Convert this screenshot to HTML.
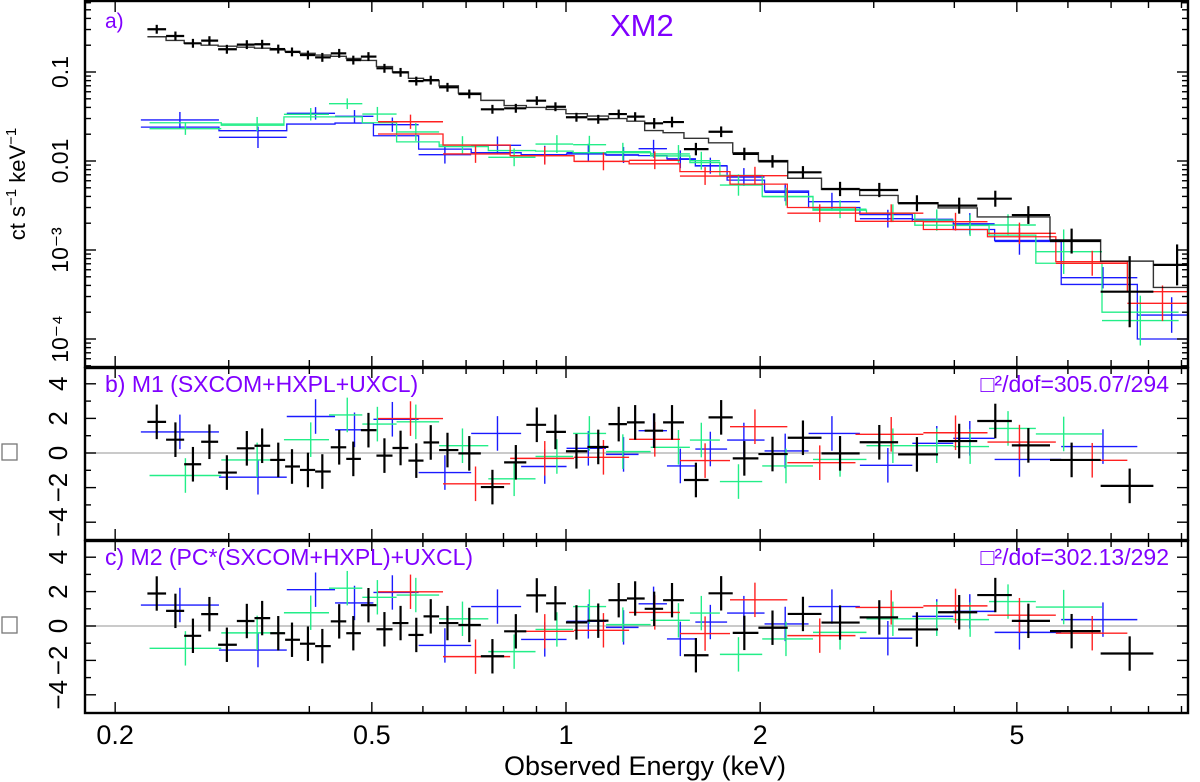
<!DOCTYPE html>
<html><head><meta charset="utf-8"><style>
html,body{margin:0;padding:0;background:#fff;}
svg{display:block;font-family:"Liberation Sans",sans-serif;}
</style></head><body>
<svg id="chart" width="1200" height="782" viewBox="0 0 1200 782" xmlns="http://www.w3.org/2000/svg">
<defs>
<clipPath id="clipTop"><rect x="85" y="0" width="1103" height="367"/></clipPath>
<clipPath id="clipMid"><rect x="85" y="367" width="1103" height="173"/></clipPath>
<clipPath id="clipBot"><rect x="85" y="540" width="1103" height="173"/></clipPath>
</defs>
<g id="gTop" clip-path="url(#clipTop)"></g>
<g id="gMid" clip-path="url(#clipMid)"></g>
<g id="gBot" clip-path="url(#clipBot)"></g>
<g id="gAxes"></g>
<text x="105" y="28" font-size="21" fill="#8000ff">a)</text>
<text x="610" y="36" font-size="31" fill="#8000ff">XM2</text>
<text x="105" y="392" font-size="23" fill="#8000ff">b) M1 (SXCOM+HXPL+UXCL)</text>
<text x="1169" y="392" font-size="23" fill="#8000ff" text-anchor="end">□²/dof=305.07/294</text>
<text x="105" y="565" font-size="23" fill="#8000ff">c) M2 (PC*(SXCOM+HXPL)+UXCL)</text>
<text x="1169" y="565" font-size="23" fill="#8000ff" text-anchor="end">□²/dof=302.13/292</text>
<text x="645" y="775" font-size="27" text-anchor="middle">Observed Energy (keV)</text>
<text transform="translate(25,184) rotate(-90)" font-size="22" text-anchor="middle">ct s<tspan dy="-9" font-size="15">−1</tspan><tspan dy="9"> keV</tspan><tspan dy="-9" font-size="15">−1</tspan></text>
<rect x="2" y="444" width="15" height="16" fill="none" stroke="#777" stroke-width="1.3"/>
<rect x="2" y="617" width="15" height="16" fill="none" stroke="#777" stroke-width="1.3"/>
</svg>
<script>
// ---- data ----
const blackE = [0.232,0.248,0.264,0.280,0.298,0.320,0.338,0.358,0.376,0.398,0.419,0.445,0.468,0.494,0.523,0.554,0.586,0.617,0.655,0.708,0.769,0.836,0.901,0.963,1.038,1.122,1.207,1.28,1.37,1.46,1.59,1.74,1.89,2.09,2.33,2.66,3.06,3.50,4.07,4.63,5.21,6.08,7.48,8.86];
const blackV = [0.302,0.254,0.210,0.225,0.180,0.203,0.205,0.181,0.168,0.155,0.146,0.162,0.136,0.149,0.110,0.099,0.079,0.081,0.0673,0.0566,0.0381,0.0391,0.0476,0.0407,0.031,0.0294,0.0337,0.0315,0.0265,0.0274,0.0136,0.0213,0.0120,0.0099,0.00746,0.00485,0.00472,0.00335,0.00315,0.00377,0.00247,0.00126,0.00034,0.00068];
const blackErr = [0.05,0.05,0.05,0.05,0.05,0.05,0.05,0.05,0.05,0.05,0.05,0.05,0.05,0.05,0.05,0.05,0.05,0.05,0.05,0.05,0.05,0.05,0.05,0.05,0.05,0.05,0.05,0.05,0.06,0.06,0.07,0.06,0.07,0.07,0.07,0.08,0.08,0.09,0.09,0.09,0.1,0.14,0.4,0.23];
const blackModel = [0.249,0.226,0.21,0.2,0.195,0.19,0.185,0.177,0.17,0.162,0.155,0.15,0.142,0.135,0.115,0.1,0.085,0.08,0.07,0.058,0.048,0.042,0.04,0.038,0.034,0.032,0.030,0.028,0.022,0.0208,0.018,0.016,0.0124,0.0101,0.0064,0.0048,0.0041,0.0034,0.00297,0.00235,0.00235,0.0013,0.00075,0.00038];
const blueE = [0.252,0.333,0.409,0.470,0.538,0.649,0.783,0.927,1.083,1.228,1.367,1.504,1.674,1.887,2.187,2.584,3.155,3.757,4.227,5.047,6.80,8.69];
const blueV = [0.0289,0.01846,0.0343,0.0318,0.0256,0.01178,0.0150,0.01178,0.0124,0.01168,0.01374,0.01045,0.00886,0.00661,0.00445,0.00349,0.00225,0.00221,0.00197,0.00125,0.000488,0.000186];
const blueErr = [0.09,0.12,0.07,0.07,0.08,0.1,0.1,0.1,0.1,0.09,0.1,0.1,0.09,0.1,0.1,0.1,0.1,0.1,0.12,0.15,0.12,0.2];
const blueModel = [0.024,0.0219,0.026,0.0267,0.0192,0.0136,0.0124,0.0118,0.012,0.0117,0.0115,0.0106,0.0088,0.0061,0.0046,0.003,0.0025,0.0021,0.0017,0.00128,0.00041,0.0001];
const greenE = [0.257,0.332,0.402,0.458,0.510,0.585,0.691,0.831,0.968,1.087,1.225,1.494,1.621,1.851,2.193,2.66,3.212,3.757,4.232,4.845,5.91,7.77];
const greenV = [0.0231,0.0260,0.0335,0.0440,0.0337,0.0212,0.0151,0.0110,0.0155,0.01524,0.01272,0.0120,0.01008,0.00537,0.00397,0.00287,0.00259,0.00217,0.00189,0.00191,0.000957,0.000161];
const greenErr = [0.07,0.08,0.07,0.06,0.08,0.1,0.1,0.1,0.1,0.1,0.1,0.1,0.1,0.12,0.1,0.1,0.1,0.12,0.12,0.12,0.25,0.28];
const greenModel = [0.0269,0.0252,0.0313,0.0313,0.0269,0.0164,0.0145,0.0131,0.0129,0.0124,0.0124,0.0114,0.0096,0.0069,0.0040,0.0028,0.0026,0.0019,0.0019,0.00147,0.00071,0.0002];
const redE = [0.574,0.724,0.927,1.143,1.373,1.643,1.963,2.474,3.193,4.017,5.047,6.544,8.41];
const redV = [0.0276,0.0120,0.01147,0.0099,0.01019,0.00678,0.00684,0.00259,0.00259,0.00208,0.00154,0.000709,0.000252];
const redErr = [0.08,0.1,0.1,0.1,0.1,0.1,0.1,0.1,0.1,0.1,0.12,0.14,0.2];
const redModel = [0.0201,0.0151,0.0115,0.0099,0.0093,0.0076,0.0055,0.0030,0.0021,0.0017,0.00141,0.00074,0.00034];
// residuals (sigma)
const blackResM1 = [1.80,0.77,-0.65,0.65,-1.13,0.27,0.42,-0.40,-0.78,-0.98,-1.07,0.33,-0.34,1.32,-0.15,0.29,-0.44,0.61,0.17,-0.02,-1.97,-0.54,1.63,1.22,0.10,0.35,1.67,1.77,1.29,1.77,-1.56,2.06,-0.31,-0.06,0.88,-0.02,0.62,-0.08,0.69,1.85,0.44,-0.40,-1.90,null];
const blackResM2 = [1.89,0.88,-0.57,0.69,-1.09,0.29,0.46,-0.42,-0.80,-1.03,-1.17,0.27,-0.42,1.21,-0.19,0.17,-0.52,0.56,0.17,0.06,-1.76,-0.31,1.78,1.32,0.21,0.31,1.5,1.6,1.0,1.5,-1.7,1.9,-0.4,-0.1,0.7,0.2,0.5,-0.2,0.8,1.8,0.3,-0.3,-1.6,null];
const blueRes = [1.22,-1.40,2.11,1.34,1.95,-1.13,1.13,-0.78,0.27,-0.08,1.29,-0.75,0.23,0.75,0.12,1.13,-0.71,0.56,0.85,-0.37,0.37,null];
const greenRes = [-1.30,-0.40,0.77,2.20,1.67,1.80,0.42,-1.49,-0.2,1.13,0.08,0.33,0.75,-1.65,-0.75,-0.37,0.42,0.42,0.37,1.42,1.10,null];
const redRes = [1.99,-1.78,-0.31,-0.25,0.79,-0.44,1.52,-0.56,1.08,1.17,0.63,-0.42,null];
const resErr = 1.0;
const xMajor = [0.2,0.5,1,2,5];
const xMinor = [0.3,0.4,0.6,0.7,0.8,0.9,3,4,6,7,8,9];
const yTopMajor = [0.1,0.01,0.001,0.0001];
const yTopLabels = ["0.1","0.01","10⁻³","10⁻⁴"];
const resTicks = [4,2,0,-2,-4];
const resLabels = ["4","2","0","−2","−4"];

// ---- scales ----
const L=85,R=1188,T=0,B1=367,B2=540,B3=713;
const xs = e => 566 + Math.log10(e)*645;
const yTop = v => 72 + (-1 - Math.log10(v))*89;
const yMid = r => 453 - r*17.3;
const yBot = r => 626 - r*17.2;
const NS="http://www.w3.org/2000/svg";
function el(tag, attrs, parent){const n=document.createElementNS(NS,tag);for(const k in attrs)n.setAttribute(k,attrs[k]);parent.appendChild(n);return n;}
function edges(E){const n=E.length,lo=[],hi=[];for(let i=0;i<n;i++){const a=i>0?Math.sqrt(E[i-1]*E[i]):E[0]*E[0]/Math.sqrt(E[0]*E[1]);const b=i<n-1?Math.sqrt(E[i]*E[i+1]):E[n-1]*E[n-1]/Math.sqrt(E[n-2]*E[n-1]);lo.push(a);hi.push(b);}return {lo,hi};}

const gTop=document.getElementById('gTop'),gMid=document.getElementById('gMid'),gBot=document.getElementById('gBot'),gAx=document.getElementById('gAxes');
[[yMid(0),gMid],[yBot(0),gBot]].forEach(([y,g])=>{
  const ln=el('line',{x1:L,x2:R,y1:y,y2:y,stroke:'#aaa','stroke-width':1.3},g);
  
  
});

const series=[
 {name:'blue',E:blueE,V:blueV,err:blueErr,M:blueModel,res:blueRes,res2:blueRes,c:'#1a1aff',w:1.4},
 {name:'green',E:greenE,V:greenV,err:greenErr,M:greenModel,res:greenRes,res2:greenRes,c:'#22ee88',w:1.4},
 {name:'red',E:redE,V:redV,err:redErr,M:redModel,res:redRes,res2:redRes,c:'#ff2020',w:1.4},
 {name:'black',E:blackE,V:blackV,err:blackErr,M:blackModel,res:blackResM1,res2:blackResM2,c:'#000',w:2.2}
];
series.forEach(s=>{
  const {lo,hi}=edges(s.E);
  let d='';
  s.M.forEach((m,i)=>{const x1=xs(lo[i]),x2=xs(hi[i]),y=yTop(m);d+=(i===0?'M':'L')+x1+','+y+'L'+x2+','+y;});
  const p=el('path',{d:d,fill:'none',stroke:s.c,'stroke-width':s.name==='black'?1.4:1.3,opacity:s.name==='black'?0.8:1},gTop);
  
  
  s.V.forEach((v,i)=>{
    const g=el('g',{},gTop);
    
    
    const xc=xs(s.E[i]),y=yTop(v);
    el('line',{x1:xs(lo[i]),x2:xs(hi[i]),y1:y,y2:y,stroke:s.c,'stroke-width':s.w},g);
    el('line',{x1:xc,x2:xc,y1:yTop(v*Math.pow(10,s.err[i])),y2:yTop(v/Math.pow(10,s.err[i])),stroke:s.c,'stroke-width':s.w},g);
  });
  [[s.res,yMid,gMid],[s.res2,yBot,gBot]].forEach(([arr,ys,gp])=>{
    arr.forEach((r,i)=>{
      if(r===null)return;
      const g=el('g',{},gp);
      
      
      const xc=xs(s.E[i]),y=ys(r);
      el('line',{x1:xs(lo[i]),x2:xs(hi[i]),y1:y,y2:y,stroke:s.c,'stroke-width':s.w},g);
      el('line',{x1:xc,x2:xc,y1:ys(r+resErr),y2:ys(r-resErr),stroke:s.c,'stroke-width':s.w},g);
    });
  });
});

[[T,B1],[B1,B2],[B2,B3]].forEach(([a,b])=>{
  const r=el('rect',{x:L,y:a+1,width:R-L,height:b-a-1,fill:'none',stroke:'#000','stroke-width':2.4},gAx);
  
  
});
[[T+1,B1],[B1,B2],[B2,B3]].forEach(([a,b])=>{
  xMajor.concat(xMinor).forEach(e=>{
    const len=xMajor.includes(e)?11:7,x=xs(e);
    el('line',{x1:x,x2:x,y1:a,y2:a+len,stroke:'#000','stroke-width':1.4},gAx);
    el('line',{x1:x,x2:x,y1:b,y2:b-len,stroke:'#000','stroke-width':1.4},gAx);
  });
});
xMajor.forEach(e=>{
  const t=el('text',{x:xs(e),y:744,'font-size':27,'text-anchor':'middle'},gAx);
  t.textContent=String(e);
  
  
});
for(let dec=-5;dec<=0;dec++){for(let k=1;k<=9;k++){const v=k*Math.pow(10,dec),y=yTop(v);if(y<2||y>366)continue;const len=k===1?11:6;
  el('line',{x1:L,x2:L+len,y1:y,y2:y,stroke:'#000','stroke-width':1.4},gAx);
  el('line',{x1:R,x2:R-len,y1:y,y2:y,stroke:'#000','stroke-width':1.4},gAx);}}
yTopMajor.forEach((v,i)=>{
  const t=el('text',{transform:'translate(68,'+yTop(v)+') rotate(-90)','font-size':23,'text-anchor':'middle'},gAx);
  t.textContent=yTopLabels[i];
  
  
});
[[yMid,B1,B2],[yBot,B2,B3]].forEach(([ys,a,b])=>{
  for(let r=-5;r<=5;r++){const y=ys(r);if(y<=a+2||y>=b-2)continue;const len=(r%2===0)?11:6;
    el('line',{x1:L,x2:L+len,y1:y,y2:y,stroke:'#000','stroke-width':1.4},gAx);
    el('line',{x1:R,x2:R-len,y1:y,y2:y,stroke:'#000','stroke-width':1.4},gAx);}
  resTicks.forEach((r,i)=>{
    const t=el('text',{transform:'translate(67,'+ys(r)+') rotate(-90)','font-size':26,'text-anchor':'middle'},gAx);
    t.textContent=resLabels[i];
    
    
  });
});
</script>
</body></html>
